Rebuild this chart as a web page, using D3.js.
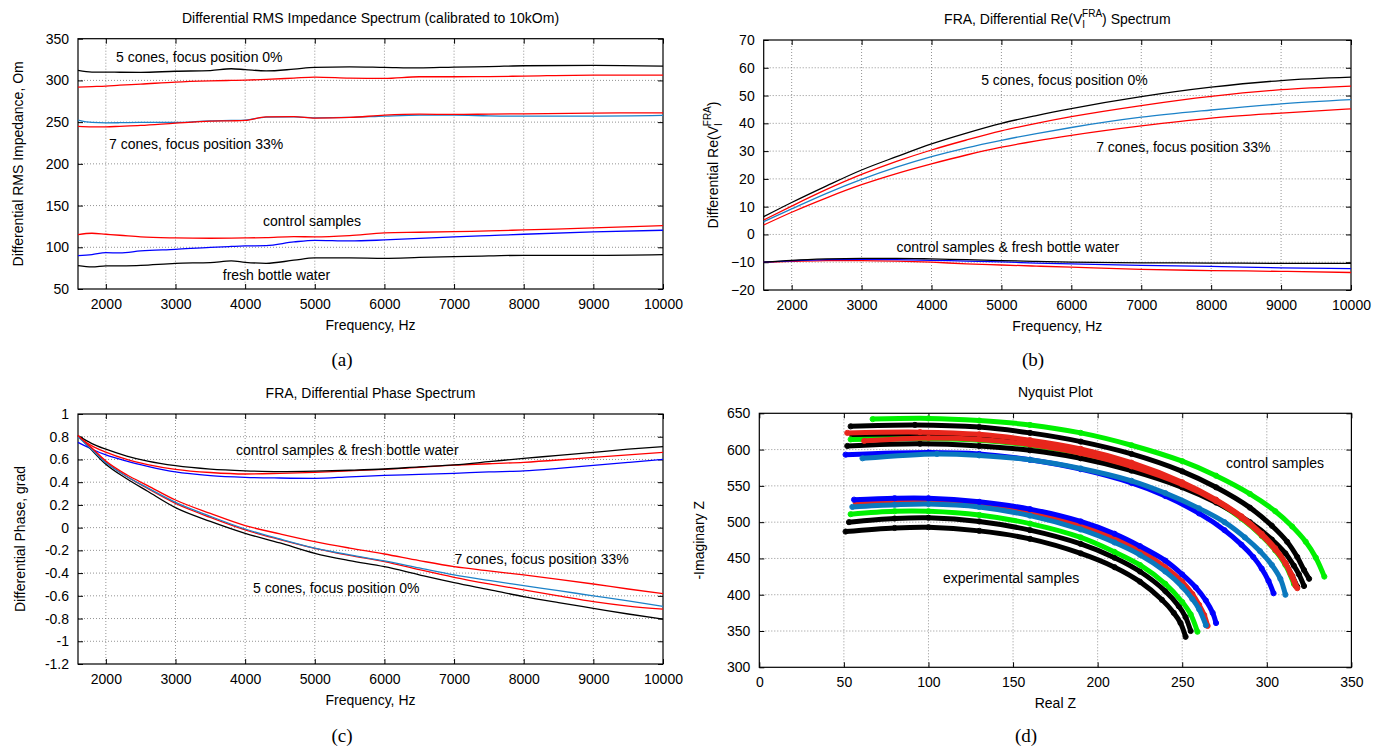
<!DOCTYPE html>
<html lang="en">
<head>
<meta charset="UTF-8">
<title>Differential impedance spectra</title>
<script src="https://d3js.org/d3.v7.min.js"></script>
<style>
  body { margin: 0; background: #fff; }
  svg text { font-family: "Liberation Sans", Arial, sans-serif; font-size: 14px; fill: #000; }
  svg text.cap { font-family: "Liberation Serif", "DejaVu Serif", serif; font-size: 19px; }
  .grid line { stroke: #777; stroke-dasharray: 1,2; stroke-width: 0.8; }
</style>
</head>
<body>
<script>
// colours
var cBlack = "#000000", cRed = "#ff0000", cBlue = "#0000ff", cSteel = "#1c82c8", cGreen = "#00f000";
var nRed = "#e8261c", nSteel = "#0a78be";

// ---- (a) RMS impedance
var freqA = [1600,1800,2000,2200,2500,3000,3500,3800,4000,4300,4700,5000,5500,6000,6500,7000,7500,8000,9000,10000];
var a5Black = [312,310,310,309.8,309.6,311,311.8,314,313,311.4,313.5,315.6,316.2,315.6,315,316,316.5,317.6,318,317.2];
var a5Red   = [292,292.6,293.2,294.3,295.6,298,299.4,300,300.4,301.2,302.8,304,302.8,302.4,304.4,304.4,304.6,305.2,306.4,306.4];
var a7Steel = [252.4,249.6,249.2,249.3,249.6,249.6,251.6,252,252.4,256,256.2,255.2,255.6,257.2,258.4,258.4,257.6,257.2,257.2,258];
var a7Red   = [245,244.4,244.4,245,246,248.8,251.2,251.6,252,256.4,256.6,254.8,255.6,258.4,259.6,259.2,259.6,260,260.8,261.2];
var aCtrlRed  = [115.2,116.8,115.6,114.4,112.4,111.2,110.8,111,111.2,111.6,112.8,112.4,114,117.2,118,118.8,119.6,120.8,123.2,126];
var aCtrlBlue = [90,91.2,93.6,93.2,95.6,97.6,100,101,101.6,102,106.4,108.4,107.6,108.8,110.6,112.4,114,115.6,118.4,120.4];
var aWater    = [78,76.4,77.6,77.8,78.4,80.8,81.6,83.6,82,80.8,84.5,87.2,87.2,86.8,87.8,88.8,89.6,90.4,90.4,91.2];

// ---- (b) Re(V) spectrum
var freqB = [1600,2000,2500,3000,3500,4000,4500,5000,5500,6000,7000,8000,9000,10000];
var b5Black = [6.4,11.5,17.5,23.2,28,32.6,36.5,40,42.8,45.3,49.6,53,55.4,56.6];
var b5Red   = [5.2,10.2,16.2,21.6,26.3,30.4,34,37.3,40,42.4,46.4,49.7,52.1,53.4];
var b7Steel = [4.6,9.2,14.8,19.8,24.2,28,31.2,33.9,36.3,38.5,42.2,44.8,47,48.5];
var b7Red   = [3.4,8,13.2,17.9,21.9,25.4,28.6,31.4,33.7,35.7,39.1,41.9,43.7,45.2];
var bCtrlBlack = [-10,-9.3,-8.8,-8.6,-8.6,-8.8,-9.1,-9.4,-9.7,-10,-10.2,-10.3,-10.4,-10.4];
var bCtrlBlue  = [-10,-9.5,-9.1,-9,-9.1,-9.3,-9.6,-9.9,-10.3,-10.6,-11.1,-11.5,-12,-12.3];
var bCtrlRed   = [-10,-9.7,-9.4,-9.4,-9.6,-10,-10.6,-11,-11.4,-11.8,-12.6,-13,-13.3,-13.7];

// ---- (c) phase spectrum
var freqC = [1600,1800,2000,2300,2600,3000,3500,4000,4500,5000,5500,6000,6500,7000,7500,8000,8500,9000,9500,10000];
var cCtrlBlack = [0.81,0.74,0.69,0.63,0.585,0.545,0.515,0.5,0.493,0.497,0.505,0.516,0.535,0.552,0.58,0.61,0.635,0.663,0.69,0.713];
var cCtrlRed   = [0.8,0.72,0.665,0.6,0.555,0.513,0.485,0.472,0.478,0.487,0.5,0.513,0.53,0.55,0.562,0.575,0.595,0.619,0.64,0.663];
var cCtrlBlue  = [0.75,0.69,0.64,0.585,0.54,0.49,0.458,0.443,0.437,0.434,0.447,0.46,0.468,0.478,0.49,0.5,0.522,0.548,0.574,0.6];
var c5Black = [0.81,0.68,0.557,0.43,0.32,0.176,0.055,-0.05,-0.135,-0.226,-0.29,-0.343,-0.415,-0.484,-0.545,-0.607,-0.66,-0.71,-0.76,-0.806];
var c5Red   = [0.81,0.69,0.575,0.45,0.345,0.214,0.09,-0.02,-0.105,-0.182,-0.245,-0.299,-0.37,-0.437,-0.495,-0.548,-0.6,-0.651,-0.69,-0.718];
var c7Steel = [0.8,0.685,0.57,0.45,0.35,0.223,0.1,-0.012,-0.1,-0.18,-0.24,-0.293,-0.355,-0.416,-0.465,-0.51,-0.555,-0.6,-0.645,-0.692];
var c7Red   = [0.81,0.7,0.586,0.465,0.37,0.243,0.125,0.018,-0.055,-0.123,-0.18,-0.232,-0.29,-0.343,-0.38,-0.416,-0.455,-0.496,-0.54,-0.58];

// ---- (d) Nyquist, [Real Z, -Imaginary Z]
var ctrlGreen  = [[67,642],[100,643],[130,640],[160,634],[190,623],[220,606],[250,584],[270,564],[290,539],[305,515],[315,494],[323,473],[329,451],[334,425]];
var ctrlBlackA = [[54,632],[92,634],[130,631],[160,623],[190,611],[220,594],[250,570],[270,548],[290,520],[303,495],[312,473],[318,452],[322,434],[325,422]];
var ctrlRedA   = [[52,623],[95,624],[130,621],[160,613],[190,601],[220,582],[250,555],[270,531],[285,508],[297,484],[305,464],[311,444],[315,426],[318,409]];
var ctrlBlackC = [[55,619],[95,620],[130,617],[160,610],[190,598],[220,579],[250,553],[270,530],[285,507],[297,483],[305,463],[311,443],[315,426],[318,411]];
var ctrlRedB   = [[62,612],[100,616],[130,614],[160,607],[190,595],[220,577],[250,552],[270,529],[285,506],[297,482],[305,462],[311,443],[314,429],[317,412]];
var ctrlGreenB = [[54,614],[100,615],[130,613],[160,606],[190,594],[220,576],[250,551],[270,528],[285,505],[297,481],[305,461],[311,441],[316,415]];
var ctrlBlackB = [[52,605],[95,608],[130,605],[160,599],[190,588],[220,571],[250,548],[270,527],[290,500],[303,476],[311,457],[316,440],[319,428],[322,412]];
var ctrlBlue   = [[51,593],[100,596],[130,594],[160,586],[190,573],[220,554],[240,536],[260,512],[275,489],[285,469],[292,452],[297,436],[301,419],[304,402]];
var ctrlSteel  = [[61,588],[105,594],[130,592],[160,586],[190,574],[220,557],[240,540],[260,519],[275,500],[287,479],[296,460],[303,441],[308,422],[311,400]];
var expBlue    = [[56,531],[80,533],[100,533],[130,528],[160,518],[190,501],[210,484],[225,467],[240,447],[250,428],[258,410],[264,392],[268,375],[270,361]];
var expRed     = [[57,527],[100,529],[130,525],[160,514],[190,496],[210,478],[225,461],[240,438],[250,418],[256,401],[260,386],[263,372],[265,357]];
var expSteel   = [[55,521],[80,524],[100,525],[130,521],[160,509],[190,490],[210,472],[225,455],[240,432],[250,411],[256,394],[260,380],[264,358]];
var expGreen   = [[54,511],[80,515],[100,515],[130,510],[160,498],[190,479],[210,459],[225,441],[240,415],[250,390],[255,373],[259,349]];
var expBlackHi = [[53,500],[80,505],[100,506],[130,501],[160,489],[190,470],[210,451],[225,432],[240,405],[248,384],[252,369],[255,350]];
var expBlackLo = [[51,487],[80,492],[100,493],[130,488],[160,477],[190,457],[210,438],[225,418],[238,393],[245,375],[249,361],[252,342]];

var freqTicks = [2000,3000,4000,5000,6000,7000,8000,9000,10000];

var svg = d3.select("body").append("svg").attr("width", 1376).attr("height", 747);

function panel(p) {
    var x = d3.scaleLinear().domain(p.xDomain).range([p.left, p.right]);
    var y = d3.scaleLinear().domain(p.yDomain).range([p.bottom, p.top]);
    var g = svg.append("g");
    var eps = 1e-9;
    var inX = p.xTicks.filter(function(v) { return v > p.xDomain[0] + eps && v < p.xDomain[1] - eps; });
    var inY = p.yTicks.filter(function(v) { return v > p.yDomain[0] + eps && v < p.yDomain[1] - eps; });

    var grid = g.append("g").attr("class", "grid");
    grid.selectAll("line.gx").data(inX).join("line").attr("class", "gx")
        .attr("x1", x).attr("x2", x).attr("y1", p.top).attr("y2", p.bottom);
    grid.selectAll("line.gy").data(inY).join("line").attr("class", "gy")
        .attr("y1", y).attr("y2", y).attr("x1", p.left).attr("x2", p.right);

    var fx = p.xFormat || d3.format("d"), fy = p.yFormat || d3.format("d");
    g.append("g").attr("transform", "translate(0," + p.bottom + ")")
        .call(d3.axisBottom(x).tickValues(p.xTicks).tickSizeInner(-5).tickSizeOuter(0).tickPadding(10).tickFormat(fx))
        .call(function(s) { s.select(".domain").remove(); });
    g.append("g").attr("transform", "translate(0," + p.top + ")")
        .call(d3.axisTop(x).tickValues(p.xTicks).tickSizeInner(-5).tickSizeOuter(0).tickFormat(""))
        .call(function(s) { s.select(".domain").remove(); });
    g.append("g").attr("transform", "translate(" + p.left + ",0)")
        .call(d3.axisLeft(y).tickValues(p.yTicks).tickSizeInner(-5).tickSizeOuter(0).tickPadding(9).tickFormat(fy))
        .call(function(s) { s.select(".domain").remove(); });
    g.append("g").attr("transform", "translate(" + p.right + ",0)")
        .call(d3.axisRight(y).tickValues(p.yTicks).tickSizeInner(-5).tickSizeOuter(0).tickFormat(""))
        .call(function(s) { s.select(".domain").remove(); });

    g.append("rect").attr("x", p.left).attr("y", p.top)
        .attr("width", p.right - p.left).attr("height", p.bottom - p.top)
        .attr("fill", "none").attr("stroke", "#000").attr("stroke-width", 1.2);

    var cx = (p.left + p.right) / 2, cy = (p.top + p.bottom) / 2;
    var title = g.append("text").attr("x", cx).attr("y", p.top - 21).attr("dy", "0.35em")
        .attr("text-anchor", "middle");
    if (p.titleFn) p.titleFn(title); else title.text(p.title);
    g.append("text").attr("x", cx).attr("y", p.bottom + 36).attr("dy", "0.35em")
        .attr("text-anchor", "middle").text(p.xLabel);
    var yl = g.append("text").attr("transform", "translate(" + (p.left - p.yLabelOff) + "," + cy + ") rotate(-90)")
        .attr("dy", "0.35em").attr("text-anchor", "middle");
    if (p.yLabelFn) p.yLabelFn(yl); else yl.text(p.yLabel);

    var line = d3.line().x(function(d) { return x(d[0]); }).y(function(d) { return y(d[1]); })
        .curve(d3.curveMonotoneX);
    (p.series || []).forEach(function(s) {
        g.append("path").datum(d3.zip(s.x, s.y)).attr("d", line)
            .attr("fill", "none").attr("stroke", s.color).attr("stroke-width", 1.3);
    });
    (p.notes || []).forEach(function(n) {
        g.append("text").attr("x", x(n[0])).attr("y", y(n[1])).attr("dy", "0.35em").text(n[2]);
    });
    return { x: x, y: y, g: g };
}

// V_I^FRA with stacked sub/superscript
function reV(t, before, after) {
    t.append("tspan").text(before + "Re(V");
    t.append("tspan").attr("font-size", "10px").style("font-size", "10px").attr("dy", 4).text("I");
    t.append("tspan").style("font-size", "10px").attr("dx", -3).attr("dy", -11).text("FRA");
    t.append("tspan").attr("dy", 7).text(")" + after);
}

panel({
    left: 78, right: 663, top: 38.7, bottom: 289,
    xDomain: [1600, 10000], yDomain: [50, 350],
    xTicks: freqTicks, yTicks: d3.range(50, 351, 50),
    title: "Differential RMS Impedance Spectrum (calibrated to 10kOm)",
    xLabel: "Frequency, Hz", yLabel: "Differential RMS Impedance, Om", yLabelOff: 60,
    series: [
        { x: freqA, y: a5Black, color: cBlack }, { x: freqA, y: a5Red, color: cRed },
        { x: freqA, y: a7Steel, color: cSteel }, { x: freqA, y: a7Red, color: cRed },
        { x: freqA, y: aCtrlRed, color: cRed }, { x: freqA, y: aCtrlBlue, color: cBlue },
        { x: freqA, y: aWater, color: cBlack }
    ],
    notes: [[2146, 327.7, "5 cones, focus position 0%"], [2045, 223.4, "7 cones, focus position 33%"],
            [4256, 131.5, "control samples"], [3679, 66.8, "fresh bottle water"]]
});

panel({
    left: 763.7, right: 1351, top: 40, bottom: 290,
    xDomain: [1600, 10000], yDomain: [-20, 70],
    xTicks: freqTicks, yTicks: d3.range(-20, 71, 10),
    titleFn: function(t) { reV(t, "FRA, Differential ", " Spectrum"); },
    xLabel: "Frequency, Hz", yLabelOff: 51,
    yLabelFn: function(t) { reV(t, "Differential ", ""); },
    series: [
        { x: freqB, y: bCtrlRed, color: cRed }, { x: freqB, y: bCtrlBlue, color: cBlue },
        { x: freqB, y: bCtrlBlack, color: cBlack },
        { x: freqB, y: b7Red, color: cRed }, { x: freqB, y: b7Steel, color: cSteel },
        { x: freqB, y: b5Red, color: cRed }, { x: freqB, y: b5Black, color: cBlack }
    ],
    notes: [[4710, 55.7, "5 cones, focus position 0%"], [6355, 31.6, "7 cones, focus position 33%"],
            [3500, -4.4, "control samples & fresh bottle water"]]
});

panel({
    left: 78, right: 663, top: 414, bottom: 664,
    xDomain: [1600, 10000], yDomain: [-1.2, 1],
    xTicks: freqTicks, yTicks: d3.range(-12, 11, 2).map(function(v) { return v / 10; }),
    yFormat: function(v) { return String(+v.toFixed(1)); },
    title: "FRA, Differential Phase Spectrum",
    xLabel: "Frequency, Hz", yLabel: "Differential Phase, grad", yLabelOff: 58,
    series: [
        { x: freqC, y: cCtrlBlue, color: cBlue }, { x: freqC, y: cCtrlRed, color: cRed },
        { x: freqC, y: cCtrlBlack, color: cBlack },
        { x: freqC, y: c5Black, color: cBlack }, { x: freqC, y: c5Red, color: cRed },
        { x: freqC, y: c7Steel, color: cSteel }, { x: freqC, y: c7Red, color: cRed }
    ],
    notes: [[3869, 0.68, "control samples & fresh bottle water"], [7005, -0.276, "7 cones, focus position 33%"],
            [4113, -0.534, "5 cones, focus position 0%"]]
});

var d = panel({
    left: 759.3, right: 1351.4, top: 413.3, bottom: 667.3,
    xDomain: [0, 350], yDomain: [300, 650],
    xTicks: d3.range(0, 351, 50), yTicks: d3.range(300, 651, 50),
    title: "Nyquist Plot", xLabel: "Real Z", yLabel: "-Imaginary Z", yLabelOff: 60
});

var arcs = [
    [ctrlBlue, cBlue], [ctrlSteel, nSteel], [ctrlBlackC, cBlack], [ctrlGreenB, cGreen],
    [ctrlBlackB, cBlack], [ctrlRedB, nRed], [ctrlRedA, nRed], [ctrlBlackA, cBlack], [ctrlGreen, cGreen],
    [expBlackLo, cBlack], [expBlackHi, cBlack], [expGreen, cGreen], [expRed, nRed],
    [expSteel, nSteel], [expBlue, cBlue]
];
var arcLine = d3.line().x(function(p) { return d.x(p[0]); }).y(function(p) { return d.y(p[1]); })
    .curve(d3.curveCatmullRom);
arcs.forEach(function(a) {
    var ag = d.g.append("g");
    ag.append("path").datum(a[0]).attr("d", arcLine).attr("fill", "none")
        .attr("stroke", a[1]).attr("stroke-width", 5).attr("stroke-linecap", "round");
    ag.selectAll("circle").data(a[0]).join("circle")
        .attr("cx", function(p) { return d.x(p[0]); }).attr("cy", function(p) { return d.y(p[1]); })
        .attr("r", 2.6).attr("fill", "none").attr("stroke", a[1]).attr("stroke-width", 1);
});
d.g.append("text").attr("x", d.x(275.9)).attr("y", d.y(581.1)).attr("dy", "0.35em").text("control samples");
d.g.append("text").attr("x", d.x(108.6)).attr("y", d.y(422.6)).attr("dy", "0.35em").text("experimental samples");

// sub-figure captions
svg.append("text").attr("class", "cap").attr("x", 342).attr("y", 359).attr("dy", "0.35em").attr("text-anchor", "middle").text("(a)");
svg.append("text").attr("class", "cap").attr("x", 1033).attr("y", 359).attr("dy", "0.35em").attr("text-anchor", "middle").text("(b)");
svg.append("text").attr("class", "cap").attr("x", 342).attr("y", 735).attr("dy", "0.35em").attr("text-anchor", "middle").text("(c)");
svg.append("text").attr("class", "cap").attr("x", 1026).attr("y", 735).attr("dy", "0.35em").attr("text-anchor", "middle").text("(d)");
</script>
</body>
</html>
